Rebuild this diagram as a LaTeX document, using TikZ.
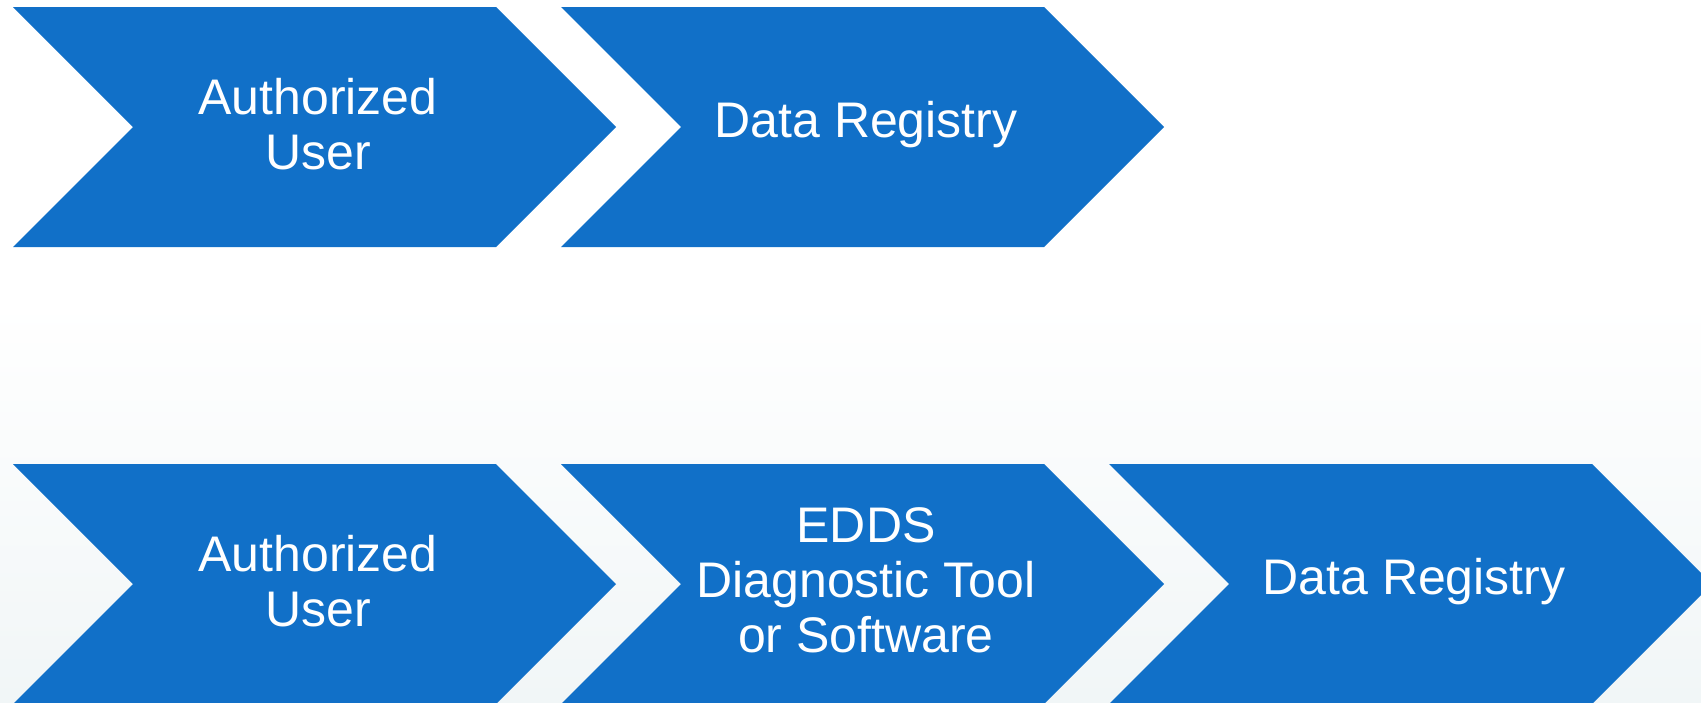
\documentclass[tikz,border=0pt]{standalone}
\usepackage{fontspec}
\setmainfont{Liberation Sans}
\definecolor{stageblue}{HTML}{1170C8}
\definecolor{slidetint}{HTML}{F1F6F7}
\tikzset{
    stage/.style={fill=stageblue},
    stagetext/.style={text=white, align=center, font=\fontsize{25}{27.5}\selectfont}}

\begin{document}
\begin{tikzpicture}[x=0.5pt, y=-0.5pt]

        \useasboundingbox (0,0) rectangle (1701,702);
        \fill[white] (0,0) rectangle (1701,702);
        \shade[top color=white, bottom color=slidetint] (0,300) rectangle (1701,702);

        % chevrons: left edge, top edge
        \foreach \x/\y in {13/7, 561/7, 13/464, 561/464, 1109/464}
            \fill[stage] (\x,\y) -- ++(483,0) -- ++(120,120) -- ++(-120,120)
                -- ++(-483,0) -- ++(120,-120) -- cycle;

        \node[stagetext] (au1) at (318,124) {Authorized\\User};
        \node[stagetext] (dr1) at (866,125) {Data Registry};

        \node[stagetext] (au2) at (318,581) {Authorized\\User};
        \node[stagetext] (edds) at (866,580) {EDDS\\Diagnostic Tool\\or Software};
        \node[stagetext] (dr2) at (1414,582) {Data Registry};

\end{tikzpicture}
\end{document}
